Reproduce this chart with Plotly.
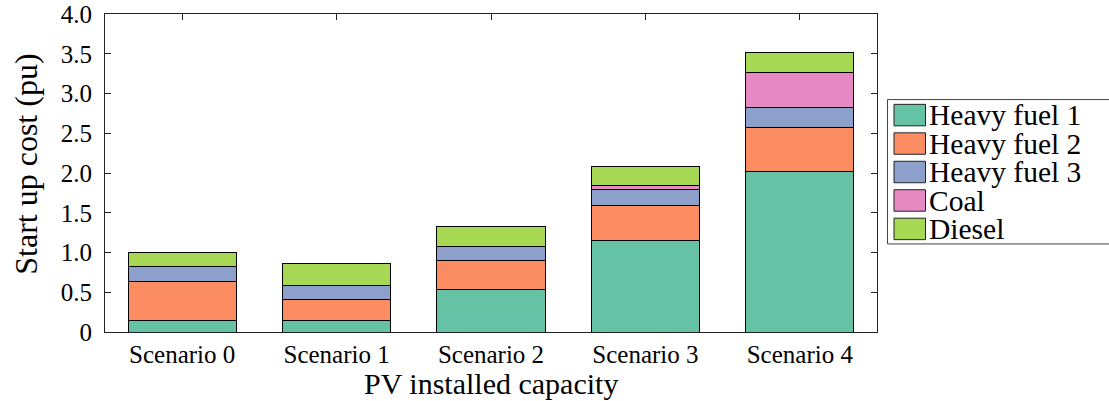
import plotly.graph_objects as go

# Start-up cost per scenario, stacked by fuel type (pu)
scenarios = ["Scenario 0", "Scenario 1", "Scenario 2", "Scenario 3", "Scenario 4"]
fuel_names = ["Heavy fuel 1", "Heavy fuel 2", "Heavy fuel 3", "Coal", "Diesel"]
heavy_fuel_1 = [0.14, 0.14, 0.54, 1.15, 2.02]
heavy_fuel_2 = [0.49, 0.27, 0.36, 0.44, 0.55]
heavy_fuel_3 = [0.20, 0.17, 0.18, 0.20, 0.25]
coal = [0.0, 0.0, 0.0, 0.05, 0.44]
diesel = [0.17, 0.28, 0.25, 0.245, 0.25]
series = [heavy_fuel_1, heavy_fuel_2, heavy_fuel_3, coal, diesel]

y_tick_vals = [0, 0.5, 1.0, 1.5, 2.0, 2.5, 3.0, 3.5, 4.0]
y_tick_text = ["0", "0.5", "1.0", "1.5", "2.0", "2.5", "3.0", "3.5", "4.0"]

colors = ["#66c2a5", "#fc8d62", "#8da0cb", "#e78ac3", "#a6d854"]
FONT = "Liberation Serif"

W, H = 1109, 401
L, R, T, B = 105, 877, 14, 332.5

fig = go.Figure()
for name, vals, col in zip(fuel_names, series, colors):
    fig.add_trace(go.Bar(
        x=scenarios, y=vals, name=name, width=0.7,
        marker=dict(color=col, line=dict(color="black", width=1)),
        showlegend=False,
    ))

axis_common = dict(
    showline=True, linecolor="#222", linewidth=1, mirror="allticks",
    ticks="inside", tickcolor="#222", ticklen=6, tickwidth=1,
    showgrid=False, zeroline=False, layer="below traces", automargin=False,
    tickfont=dict(family=FONT, size=25, color="black"),
)

fig.update_layout(
    width=W, height=H,
    margin=dict(l=L, r=W - R, t=T, b=H - B),
    paper_bgcolor="white", plot_bgcolor="white",
    barmode="stack",
    xaxis=dict(**axis_common, range=[-0.5, 4.5]),
    yaxis=dict(**axis_common, range=[0, 4], tickvals=y_tick_vals,
               ticktext=y_tick_text, ticklabelstandoff=7),
)


def px(x):
    return (x - L) / (R - L)


def py(y):
    return (B - y) / (B - T)


# Axis titles
annotations = [
    dict(xref="paper", yref="paper", x=px(491), y=py(384.5),
         text="PV installed capacity", showarrow=False,
         xanchor="center", yanchor="middle",
         font=dict(family=FONT, size=30, color="black")),
    dict(xref="paper", yref="paper", x=px(26), y=py(165),
         text="Start up cost (pu)", showarrow=False, textangle=-90,
         xanchor="center", yanchor="middle",
         font=dict(family=FONT, size=32, color="black")),
]

# Legend panel drawn on the paper
shapes = [dict(type="rect", xref="paper", yref="paper",
               x0=px(887.5), x1=px(1130), y0=py(99.7), y1=py(244.3),
               line=dict(color="#444", width=1), fillcolor="white")]
row_top = 104.5
row_step = 28.5
for i, (name, col) in enumerate(zip(fuel_names, colors)):
    top = row_top + i * row_step
    shapes.append(dict(type="rect", xref="paper", yref="paper",
                       x0=px(894), x1=px(925.5), y0=py(top + 21.5), y1=py(top),
                       line=dict(color="#222", width=1), fillcolor=col))
    annotations.append(dict(xref="paper", yref="paper", x=px(927),
                            y=py(top + 11), text=name, showarrow=False,
                            xanchor="left", yanchor="middle",
                            font=dict(family=FONT, size=29.5, color="black")))
fig.update_layout(shapes=shapes, annotations=annotations)

fig.write_html("out.html")
